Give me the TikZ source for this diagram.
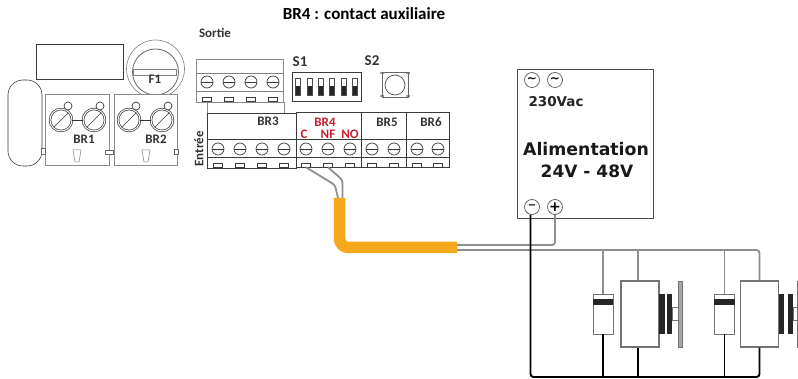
\documentclass[tikz,border=0pt]{standalone}
\usepackage{fontspec}
\setmainfont{Carlito}
\newfontfamily\alimfont{DejaVu Sans}
\usetikzlibrary{arrows.meta, positioning}
\definecolor{cableorange}{HTML}{F5A81C}
\definecolor{wiregrey}{HTML}{8E8E90}
\definecolor{labelred}{HTML}{C8202F}
\definecolor{blockline}{HTML}{3A3A3A}
\tikzset{x = 1pt, y = -1pt,
         lbl/.style = {inner sep = 0, font = \bfseries\fontsize{13}{14}\selectfont, text = black!80},
         redlbl/.style = {lbl, text = labelred},
         block/.style = {draw = blockline, line width = 0.8pt, fill = white},
         lightblock/.style = {draw = black!45, line width = 0.8pt, fill = white},
         screw/.style = {circle, draw = blockline, fill = white, inner sep = 0, minimum size = 12pt, line width = 0.7pt,
           path picture = {\draw[line width = 0.7pt] (path picture bounding box.west) -- (path picture bounding box.east);}},
         bigscrew/.style = {circle, draw = blockline, inner sep = 0, minimum size = 22pt, line width = 0.7pt,
           double = white, double distance = 1pt,
           path picture = {\draw[line width = 0.7pt] (path picture bounding box.south west) -- (path picture bounding box.north east);}},
         smallring/.style = {circle, draw = blockline, fill = white, inner sep = 0, minimum size = 8pt, line width = 0.7pt},
         tab/.style = {draw = blockline, fill = white, inner sep = 0, minimum width = 9pt, minimum height = 4pt, line width = 0.5pt},
         term/.style = {circle, draw = black!65, fill = white, inner sep = 0, minimum size = 15pt, line width = 0.7pt},
         dip/.style = {draw = black!70, fill = white, inner sep = 0, minimum width = 5pt, minimum height = 17pt, line width = 0.5pt,
           path picture = {\fill[black!85] (path picture bounding box.west) rectangle (path picture bounding box.south east);}},
         greywire/.style = {draw = wiregrey, line width = 1.8pt, rounded corners = 3pt},
         blackwire/.style = {draw = black, line width = 1.9pt, rounded corners = 3pt},
         diode/.style = {draw = black!55, fill = white, inner sep = 0, minimum width = 20pt, minimum height = 40pt, line width = 0.9pt},
         motor/.style = {draw = black!55, fill = white, inner sep = 0, minimum width = 38pt, minimum height = 66pt, line width = 1.1pt},
         plate/.style = {fill = black!85, inner sep = 0, minimum width = 5.5pt, minimum height = 40pt},
         shaft/.style = {draw = black!55, fill = white, inner sep = 0, minimum width = 7pt, minimum height = 13pt, line width = 1pt},
         disc/.style = {draw = black!55, fill = black!35, inner sep = 0, minimum width = 4.5pt, minimum height = 66pt, line width = 0.6pt}}

\begin{document}
\begin{tikzpicture}
    \path[use as bounding box, clip] (0,0) rectangle (798,379);
    \node[lbl, text = black, font = \bfseries\fontsize{17}{19}\selectfont] (title) at (364,14) {BR4 : contact auxiliaire};

    % left side
    \node[draw = blockline, line width = 0.8pt, minimum width = 87pt, minimum height = 35pt] (cover) at (79.5,61.5) {};
    \node[draw = blockline, line width = 0.6pt, rounded corners = 15pt, minimum width = 34pt, minimum height = 86pt] (pill) at (25,123) {};
    \node[circle, draw = black!50, line width = 0.6pt, minimum size = 58pt, inner sep = 0] (fuseout) at (155.5,69) {};
    \node[circle, draw = black!60, line width = 0.8pt, minimum size = 46pt, inner sep = 0] (fusein) at (155.5,72) {};
    \node[draw = black!50, fill = white, line width = 0.5pt, inner sep = 0, minimum width = 43pt, minimum height = 6pt] (fuseband) at (155,72) {};
    \node[lbl] (F1) at (155,79.5) {F1};

    \node[lightblock, minimum width = 64pt, minimum height = 71pt] (BR1box) at (77,130) {};
    \node[lightblock, minimum width = 63pt, minimum height = 71pt] (BR2box) at (145.5,130) {};
    \node[draw = black!60, fill = white, line width = 0.5pt, inner sep = 0, minimum width = 4pt, minimum height = 6pt] (clipA) at (43.5,151) {};
    \node[draw = black!60, fill = white, line width = 0.5pt, inner sep = 0, minimum width = 8pt, minimum height = 4pt] (clipB) at (109,152) {};
    \node[draw = black!60, fill = white, line width = 0.5pt, inner sep = 0, minimum width = 4pt, minimum height = 5pt] (clipC) at (176,152) {};

    \foreach \name/\xa/\xb/\lx in {BR1/61/94/84, BR2/129/162/156} {
        \node[bigscrew] (\name a) at (\xa,120) {};
        \node[bigscrew] (\name b) at (\xb,120) {};
        \draw[line width = 0.8pt, black!80] (\name a) -- (\name b);
        \node[smallring] (\name ra) at (\xa+7,106) {};
        \node[smallring] (\name rb) at (\xb+6,106) {};
        \node[lbl] (\name) at (\lx,139) {\name};
    }
    \foreach \xc in {77,146}
        \draw[black!50, line width = 0.5pt] (\xc-4,150) -- (\xc+4,150) -- (\xc+2,162) -- (\xc-2,162) -- cycle;

    % outputs
    \node[lbl] (sortie) at (215,33) {Sortie};
    \node[lightblock, minimum width = 77pt, minimum height = 12pt] (link) at (245.5,108) {};
    \node[lightblock, minimum width = 87pt, minimum height = 43pt] (outblock) at (240,80.5) {};
    \draw[black!50, line width = 0.7pt] (outblock.west |- 0,73) -- (outblock.east |- 0,73);
    \draw[black!50, line width = 0.7pt] (outblock.west |- 0,91) -- (outblock.east |- 0,91);
    \foreach \xs in {207,229,251,273} {
        \node[screw] (out\xs) at (\xs,82) {};
        \node[tab] (outtab\xs) at (\xs,99.5) {};
    }

    % switches
    \node[lbl, font = \bfseries\fontsize{15}{16}\selectfont] (S1) at (300,62) {S1};
    \node[lbl, font = \bfseries\fontsize{15}{16}\selectfont] (S2) at (372,61) {S2};
    \node[block, line width = 0.9pt, minimum width = 69pt, minimum height = 29pt] (S1box) at (326.5,86.5) {};
    \foreach \xs in {298,310,321,332,344,355}
        \node[dip] (dip\xs) at (\xs,86.5) {};
    \node[draw = black!60, line width = 0.7pt, minimum width = 26pt, minimum height = 25pt, inner sep = 0] (S2box) at (395,84.5) {};
    \node[circle, draw = black!70, line width = 0.7pt, minimum size = 20pt, inner sep = 0] (S2btn) at (395,85) {};
    \foreach \xs/\ys in {381/73,383/73,407/73,409/73,381/96,383/96,407/96,409/96}
        \fill[black!60] (\xs,\ys) circle (1pt);

    % inputs
    \node[block, minimum width = 89pt, minimum height = 55pt] (BR3box) at (251.5,140.5) {};
    \node[block, line width = 1pt, minimum width = 65pt, minimum height = 55pt] (BR4box) at (328.5,140.5) {};
    \node[block, line width = 1pt, minimum width = 45pt, minimum height = 55pt] (BR5box) at (383.5,140.5) {};
    \node[block, line width = 1pt, minimum width = 43pt, minimum height = 55pt] (BR6box) at (427.5,140.5) {};
    \draw[blockline, line width = 0.8pt] (BR3box.west |- 0,139) -- (BR6box.east |- 0,139);
    \draw[blockline, line width = 0.8pt] (BR3box.west |- 0,157) -- (BR6box.east |- 0,157);
    \foreach \xs in {218,240,262,284,306,328,350,372,394,417,438} {
        \node[screw] (in\xs) at (\xs,149) {};
        \node[tab] (intab\xs) at (\xs,165) {};
    }
    \node[lbl] (BR3) at (268,121) {BR3};
    \node[redlbl] (BR4) at (325,122) {BR4};
    \node[redlbl] (C) at (304,134) {C};
    \node[redlbl] (NF) at (328,134) {NF};
    \node[redlbl] (NO) at (350,134) {NO};
    \node[lbl] (BR5) at (387,122) {BR5};
    \node[lbl] (BR6) at (431,122) {BR6};
    \node[lbl, rotate = 90] (entree) at (199,149) {Entrée};

    % power supply
    \node[draw = black!70, line width = 1pt, fill = white, minimum width = 136pt, minimum height = 149pt] (alim) at (585,144.5) {};
    \node[term] (acA) at (532,80) {\alimfont\fontsize{12}{12}\selectfont\bfseries\char"223C};
    \node[term] (acB) at (555,80) {\alimfont\fontsize{12}{12}\selectfont\bfseries\char"223C};
    \node[inner sep = 0, font = \alimfont\bfseries\fontsize{13.5}{14}\selectfont, text = black!85] (vac) at (556,102) {230Vac};
    \node[inner sep = 0, font = \alimfont\bfseries\fontsize{17.3}{19}\selectfont, text = black!90] (alimtxt) at (586,149) {Alimentation};
    \node[inner sep = 0, font = \alimfont\bfseries\fontsize{17}{19}\selectfont, text = black!90] (volt) at (587,171) {24V - 48V};
    \node[term] (minus) at (532,207) {\alimfont\fontsize{10}{10}\selectfont\bfseries\char"2212};
    \node[term] (plus) at (555,207) {\alimfont\fontsize{14}{14}\selectfont\bfseries +};

    % cable
    \coordinate (cabletop) at (339.5,198);
    \coordinate (cableend) at (457,247.5);
    \coordinate (cableC) at (338,198);
    \coordinate (cableNF) at (342.5,198);
    \coordinate (greyup) at (457,245);
    \coordinate (greydown) at (457,250);
    \draw[greywire] (intab306.south) -- (335,185) -- (cableC);
    \draw[greywire] (intab328.south) -- (342.5,180) -- (cableNF);
    \draw[draw = cableorange, line width = 11.5pt, rounded corners = 9pt] (cabletop) |- (cableend);

    % actuators
    \node[diode] (D1) at (603,314) {};
    \node[diode] (D2) at (724.5,314) {};
    \foreach \name in {D1, D2}
        \fill[black!85] ([yshift = -5pt]\name.north west) rectangle ([yshift = -11pt]\name.north east);
    \node[motor] (M1) at (640,314) {};
    \node[motor] (M2) at (759.5,314) {};
    \node[plate] (P1a) at (662,314) {};
    \node[plate] (P1b) at (669.5,314) {};
    \node[shaft] (Sh1) at (675.5,314) {};
    \node[disc] (Di1) at (680.5,314) {};
    \node[plate] (P2a) at (781.5,314) {};
    \node[plate] (P2b) at (790.5,314) {};
    \node[shaft] (Sh2) at (796.5,314) {};
    \node[disc] (Di2) at (800,314) {};

    % wiring
    \coordinate (busend) at (759.5,250);
    \coordinate (blackcorner) at (530.5,377);
    \draw[greywire] (greyup) -| (plus.south);
    \draw[greywire] (greydown) -| (M2.north);
    \draw[greywire] (D1.north) -- (D1.north |- busend);
    \draw[greywire] ([xshift = -2pt]M1.north) -- ([xshift = -2pt]M1.north |- busend);
    \draw[greywire] (D2.north) -- (D2.north |- busend);
    \draw[blackwire] (blackcorner |- minus.south) -- (blackcorner) -| (M2.south);
    \draw[blackwire, rounded corners = 0pt] (D1.south) -- (D1.south |- blackcorner);
    \draw[blackwire, rounded corners = 0pt] ([xshift = -2pt]M1.south) -- ([xshift = -2pt]M1.south |- blackcorner);
    \draw[blackwire, rounded corners = 0pt] (D2.south) -- (D2.south |- blackcorner);
\end{tikzpicture}
\end{document}
